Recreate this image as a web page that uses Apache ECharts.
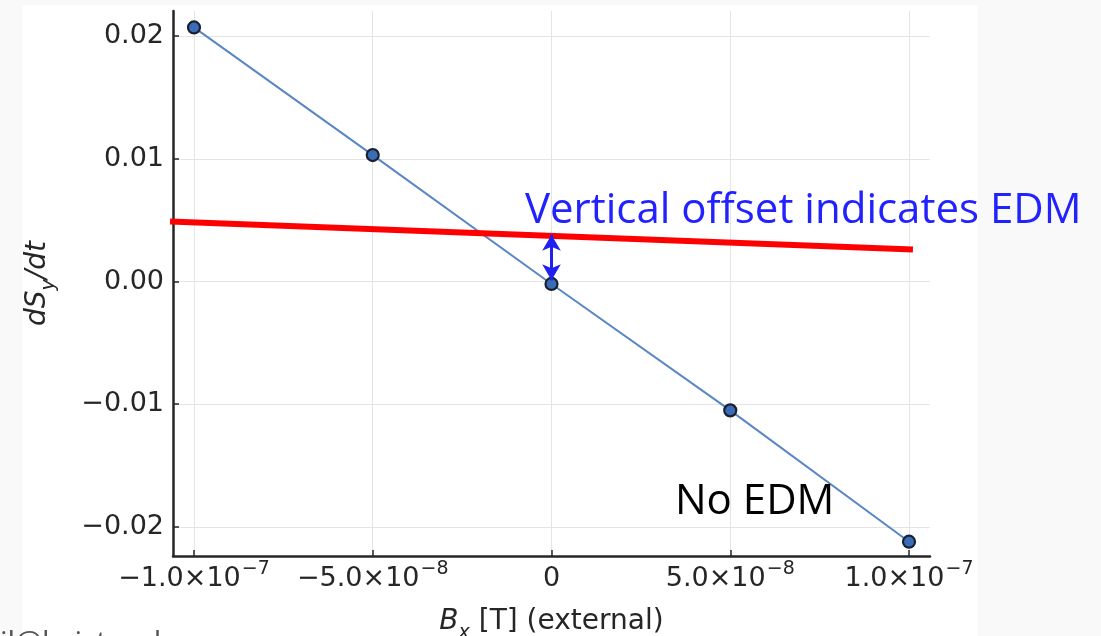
<!DOCTYPE html>
<html>
<head>
<meta charset="utf-8">
<script src="https://cdn.jsdelivr.net/npm/echarts@6/dist/echarts.min.js"></script>
<style>
html,body{margin:0;padding:0;background:#f9f9f9;}
#c{width:1101px;height:636px;}
</style>
</head>
<body>
<div id="c"></div>
<script>
// Data
const bxValues = [-1e-7, -5e-8, 0, 5e-8, 1e-7];
const dsdtValues = [0.0207, 0.0103, -0.0002, -0.0105, -0.0212];
const xTicks = [-1e-7, -5e-8, 0, 5e-8, 1e-7];
const xTickMantissa = ['\u22121.0\u00d710', '\u22125.0\u00d710', '0', '5.0\u00d710', '1.0\u00d710'];
const xTickExponent = ['\u22127', '\u22128', '', '\u22128', '\u22127'];
const yTicks = [-0.02, -0.01, 0, 0.01, 0.02];
const yTickLabels = ['\u22120.02', '\u22120.01', '0.00', '0.01', '0.02'];
const edmLineX = [-1.067e-7, 1.011e-7];
const edmLineY = [0.00489, 0.0026];
const arrowX = 0;
const arrowY = [0.0038, 0.0001];
const annotationText = 'Vertical offset indicates EDM';
const noEdmText = 'No EDM';
const footerText = 'il@kaist.ac.kr';

const chart = echarts.init(document.getElementById('c'), null, {renderer: 'canvas'});

function findIdx(ticks, v) {
  return ticks.findIndex(t => Math.abs(t - v) < Math.abs(ticks[1] - ticks[0]) * 1e-3);
}

const axisFont = 'DejaVu Sans';
const slideFont = 'Open Sans';
const ink = '#262626';

const option = {
  backgroundColor: '#f9f9f9',
  animation: false,
  grid: {left: 173, right: 171, top: 11, bottom: 80, containLabel: false, outerBoundsMode: 'none'},
  xAxis: {
    type: 'value',
    min: -1.0587e-7,
    max: 1.0587e-7,
    name: '{i|B}{sub|x}{n| [T] (external)}',
    nameLocation: 'middle',
    nameGap: 50,
    nameTextStyle: {
      rich: {
        i: {fontFamily: axisFont, fontStyle: 'italic', fontSize: 28, color: ink, lineHeight: 32},
        sub: {fontFamily: axisFont, fontStyle: 'italic', fontSize: 19, color: ink, verticalAlign: 'bottom', lineHeight: 19, padding: [0, 0, -5, 0]},
        n: {fontFamily: axisFont, fontSize: 28, color: ink, lineHeight: 32}
      }
    },
    axisLine: {show: true, onZero: false, lineStyle: {color: ink, width: 2.5}},
    axisTick: {show: true, inside: true, length: 6, customValues: xTicks, lineStyle: {color: ink, width: 1.5}},
    axisLabel: {
      customValues: xTicks,
      margin: 8,
      formatter: v => {
        const i = findIdx(xTicks, v);
        if (i < 0) return '';
        return xTickExponent[i] ? '{m|' + xTickMantissa[i] + '}{e|' + xTickExponent[i] + '}' : '{m|' + xTickMantissa[i] + '}';
      },
      rich: {
        m: {fontFamily: axisFont, fontSize: 27, color: ink, lineHeight: 30},
        e: {fontFamily: axisFont, fontSize: 19, color: ink, verticalAlign: 'top', lineHeight: 19, padding: [-4, 0, 0, 1]}
      }
    },
    splitLine: {show: true, lineStyle: {color: '#e4e4e4', width: 1}}
  },
  yAxis: {
    type: 'value',
    min: -0.022363,
    max: 0.022037,
    name: '{i|dS}{sub|y}{i|/dt}',
    nameLocation: 'middle',
    nameGap: 119,
    nameRotate: 90,
    nameTextStyle: {
      rich: {
        i: {fontFamily: axisFont, fontStyle: 'italic', fontSize: 28, color: ink, lineHeight: 32},
        sub: {fontFamily: axisFont, fontStyle: 'italic', fontSize: 19, color: ink, verticalAlign: 'bottom', lineHeight: 19, padding: [0, 0, -5, 0]}
      }
    },
    axisLine: {show: true, onZero: false, lineStyle: {color: ink, width: 2.5}},
    axisTick: {show: true, inside: true, length: 6, customValues: yTicks, lineStyle: {color: ink, width: 1.5}},
    axisLabel: {
      customValues: yTicks,
      margin: 9,
      fontFamily: axisFont, fontSize: 27, color: ink,
      formatter: v => { const i = findIdx(yTicks, v); return i >= 0 ? yTickLabels[i] : ''; }
    },
    splitLine: {show: true, lineStyle: {color: '#e4e4e4', width: 1}}
  },
  series: [
    {
      type: 'line',
      data: bxValues.map((x, i) => [x, dsdtValues[i]]),
      lineStyle: {color: '#5a86c5', width: 2},
      symbol: 'circle',
      symbolSize: 12,
      itemStyle: {color: '#3a6cb8', borderColor: '#18222e', borderWidth: 2.2},
      z: 3
    },
    {
      type: 'line',
      data: edmLineX.map((x, i) => [x, edmLineY[i]]),
      showSymbol: false,
      symbol: 'none',
      clip: false,
      lineStyle: {color: '#ff0000', width: 6},
      z: 4,
      markLine: {
        silent: true,
        symbol: ['arrow', 'arrow'],
        symbolSize: [14, 16],
        label: {show: false},
        lineStyle: {color: '#2020f0', width: 3, type: 'solid'},
        data: [[{coord: [arrowX, arrowY[0]]}, {coord: [arrowX, arrowY[1]]}]],
        z: 5
      }
    }
  ],
  graphic: [
    {type: 'rect', z: -10, silent: true, shape: {x: 22, y: 5, width: 956, height: 640}, style: {fill: '#ffffff'}},
    {type: 'text', z: 10, left: 525, top: 190, style: {text: annotationText, font: '42px "' + slideFont + '"', fill: '#2222ff'}},
    {type: 'text', z: 10, left: 675, top: 481, style: {text: noEdmText, font: '42px "' + slideFont + '"', fill: '#000000'}},
    {type: 'text', z: 10, left: 0, top: 628, style: {text: footerText, font: '30px "Open Sans"', fill: '#555555'}}
  ]
};
chart.setOption(option);
</script>
</body>
</html>
